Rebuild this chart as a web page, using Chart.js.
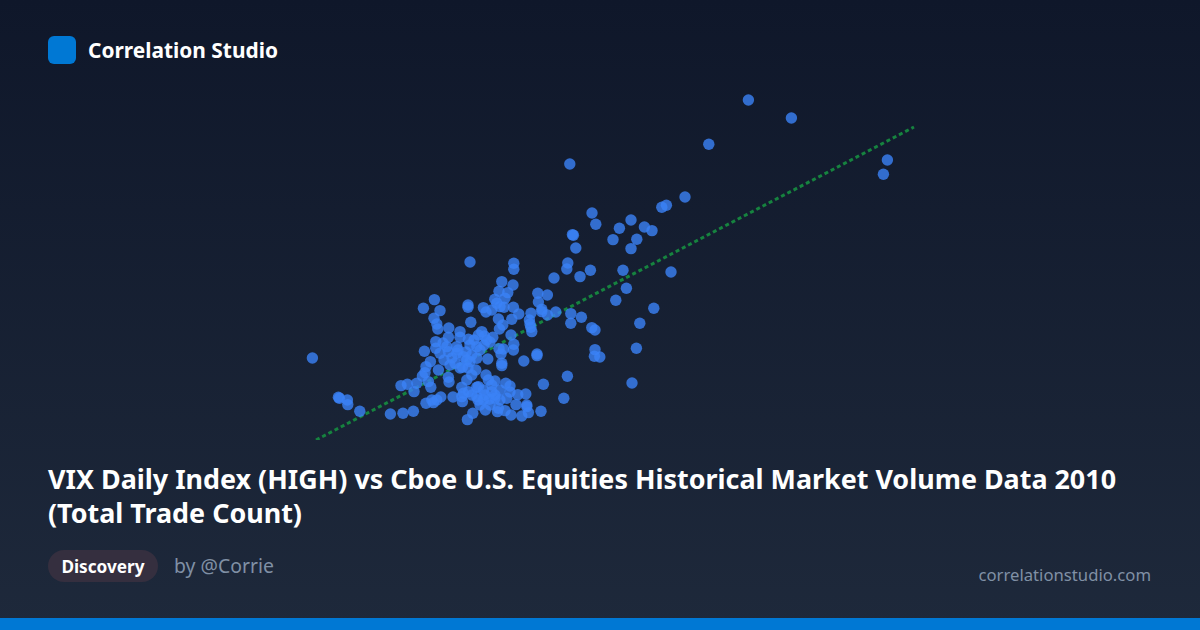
<!DOCTYPE html>
<html>
<head>
<meta charset="utf-8">
<title>Correlation Studio</title>
<script src="https://cdn.jsdelivr.net/npm/chart.js@4/dist/chart.umd.min.js"></script>
<style>
  html, body { margin: 0; padding: 0; }
  body { width: 1200px; height: 630px; overflow: hidden; position: relative; font-family: "Noto Sans", sans-serif; color: #fff;
    background: linear-gradient(180deg, #0f172a 0%, #1e293b 100%); }
  .logo { position: absolute; left: 48px; top: 36px; width: 28px; height: 28px; border-radius: 6px; background: #0078d4; }
  .brand { position: absolute; left: 88px; top: 36px; line-height: 28px; font-size: 20.9px; font-weight: 700; }
  .plot { position: absolute; left: 300px; top: 80px; width: 640px; height: 360px; }
  h1 { position: absolute; left: 48px; top: 462px; width: 1104px; margin: 0; font-size: 26.9px; line-height: 34px; font-weight: 700; }
  .tag { position: absolute; left: 48px; top: 550px; width: 110px; height: 32px; line-height: 33px; border-radius: 16px; background: #352f3f; text-align: center; font-size: 17.2px; font-weight: 700; }
  .by { position: absolute; left: 174px; top: 550px; line-height: 32px; font-size: 19.4px; color: #8090a5; }
  .site { position: absolute; right: 49px; top: 559px; line-height: 32px; font-size: 16.7px; color: #8090a5; }
  .bar { position: absolute; left: 0; bottom: 0; width: 1200px; height: 12px; background: #0078d4; }
</style>
</head>
<body>
<div class="logo"></div>
<div class="brand">Correlation Studio</div>
<div class="plot"><canvas id="myChart" width="640" height="360"></canvas></div>
<h1>VIX Daily Index (HIGH) vs Cboe U.S. Equities Historical Market Volume Data 2010 (Total Trade Count)</h1>
<div class="tag">Discovery</div>
<div class="by">by @Corrie</div>
<div class="site">correlationstudio.com</div>
<div class="bar"></div>
<script>
// values, no axis is shown so the units are estimates
var vixHigh = [37.42,39.57,35.44,28.49,44.37,44.17,34.25,33.32,33.09,29.6,29.79,31.55,30.97,32.22,32.6,28.62,28.67,30.65,31.84,28.79,31.55,28.39,28.34,29.52,31.15,29,27.7,33.55,31.32,27.37,30.79,32.69,27.79,27.37,27.09,28.54,29.07,28.54,31.99,29.59,29.75,29.75,31.82,29.72,29.99,26.85,26.85,28.37,27.17,31.6,28.19,
  15.62,23.5,25.69,25.69,25.09,25.65,24.95,25.39,24.74,25.25,26.89,26.92,21.72,21.17,22,23.4,23.4,24.17,24.59,24.3,24.84,25,25.2,25.67,25.94,24.92,25.59,25.14,24.97,23.54,21.7,21.84,21.89,22.44,23,22.42,23,21.79,23.42,24.09,23.92,24.22,24.64,24.34,25.55,25.69,25.67,24.95,25.17,25.05,21.22,22,21.79,22.34,22.84,23.5,23.84,22.42,22.84,23.17,23.59,23.84,22.5,22.75,23.12,23.34,23.5,23.79,24.39,21.52,21.3,21.92,21.25,21.12,22.42,22.45,20.84,20.37,20.05,21.42,21.54,20.7,23.34,23.59,24.3,24.42,24.75,25.29,25.5,23.92,24.59,23.09,25.09,25.09,26.19,26.55,27.09,26.5,26.59,26.54,26.47,
  16.92,16.97,17.37,17.39,17.99,19.52,20.15,20.67,21.3,21.67,21.84,22.04,21.59,22.65,23.12,23.17,23.09,23.42,23.59,24,24.27,23.64,23.37,24.87,24.92,25.25,25.55,26.09,26.42,26.34,27.05,25.8,25.34,25.89,26.29,24.47,24.75,24.17,23.84,25,24.59,24.17,23.84,26.34,
  22.6,22.2,22.9,23.3,24,24.2,24.5,23.7,22.15,23,23.4,24.75,24.25,25,24.5,23.9,25.5];
var tradeCount = [26.5,25.6,24.29,23.3,23.5,22.79,21.65,21.24,21.14,20.85,20.29,20.5,20.09,20.15,19.97,19.77,19.74,19.52,19.54,19.1,19.07,18.35,18.05,17.99,17.99,17.67,17.6,17.9,17.09,16.75,16.49,16.09,15.9,15.75,15.92,15.82,15.64,15.34,15.34,15.12,15,14.02,14.09,13.69,13.65,13.8,13.72,12.69,12.29,12.35,11.59,
  13.6,18.4,18.34,18.04,17.42,17.25,16.94,16.87,16.54,16.59,16.84,16.4,16.52,16.09,15.97,16.25,16.14,16.12,16,15.9,16.34,16.17,16.14,16.14,15.8,15.55,15.54,15.25,15.05,15.39,15.59,15.3,15.05,15.1,14.92,14.64,14.64,14.42,14.54,14.92,14.75,14.7,14.64,14.5,14.75,14.29,14,14.07,14.05,13.8,13.94,13.84,14.09,14.17,14.17,14.25,14.17,13.92,13.84,13.67,13.75,13.59,13.25,13.34,13.14,13.5,13.42,13,13.55,13.42,13.17,13,12.87,12.7,12.64,12.4,12.34,12.29,12.22,12.42,12.14,11.92,12.5,12.75,12.75,12.5,12.45,12.34,12.2,12.17,12.25,12.14,13.34,13.22,13.45,15.84,16.04,15.3,14.92,15.14,15.5,
  11.64,11.59,11.5,11.27,10.94,10.8,10.84,10.94,11.34,11.37,11.5,11.65,11.5,11.65,11.42,11.84,11.67,11.92,11.75,11.25,11,10.84,10.52,10.92,11.09,10.97,10.75,10.7,10.87,11.17,10.94,11.27,11.59,11.77,11.8,11.54,11.59,11.5,11.67,12,11.92,12,12.14,11.25,
  13.6,13.5,14,13.9,14,14.25,14.4,14.5,14.35,13.1,13.1,11.75,11.75,11.5,11.25,11.5,11.9];
var trendX = [15.8, 45.7];
var trendY = [9.5, 25.15];

var points = vixHigh.map(function (v, i) { return { x: v, y: tradeCount[i] }; });
var trend = trendX.map(function (v, i) { return { x: v, y: trendY[i] }; });

var ctx = document.getElementById("myChart");
var myChart = new Chart(ctx, {
  type: 'scatter',
  data: {
    datasets: [
      {
        data: points,
        backgroundColor: 'rgba(59,130,246,0.8)',
        borderWidth: 0,
        pointRadius: 5.7,
        order: 1
      },
      {
        type: 'line',
        data: trend,
        borderColor: '#16833f',
        borderWidth: 3,
        borderDash: [4, 3],
        pointRadius: 0,
        fill: false,
        order: 2
      }
    ]
  },
  options: {
    responsive: false,
    animation: false,
    layout: { padding: 0, autoPadding: false },
    plugins: { legend: { display: false }, tooltip: { enabled: false } },
    scales: {
      x: { type: 'linear', min: 15, max: 47, display: false },
      y: { type: 'linear', min: 9.5, max: 27.5, display: false }
    }
  }
});
</script>
</body>
</html>
